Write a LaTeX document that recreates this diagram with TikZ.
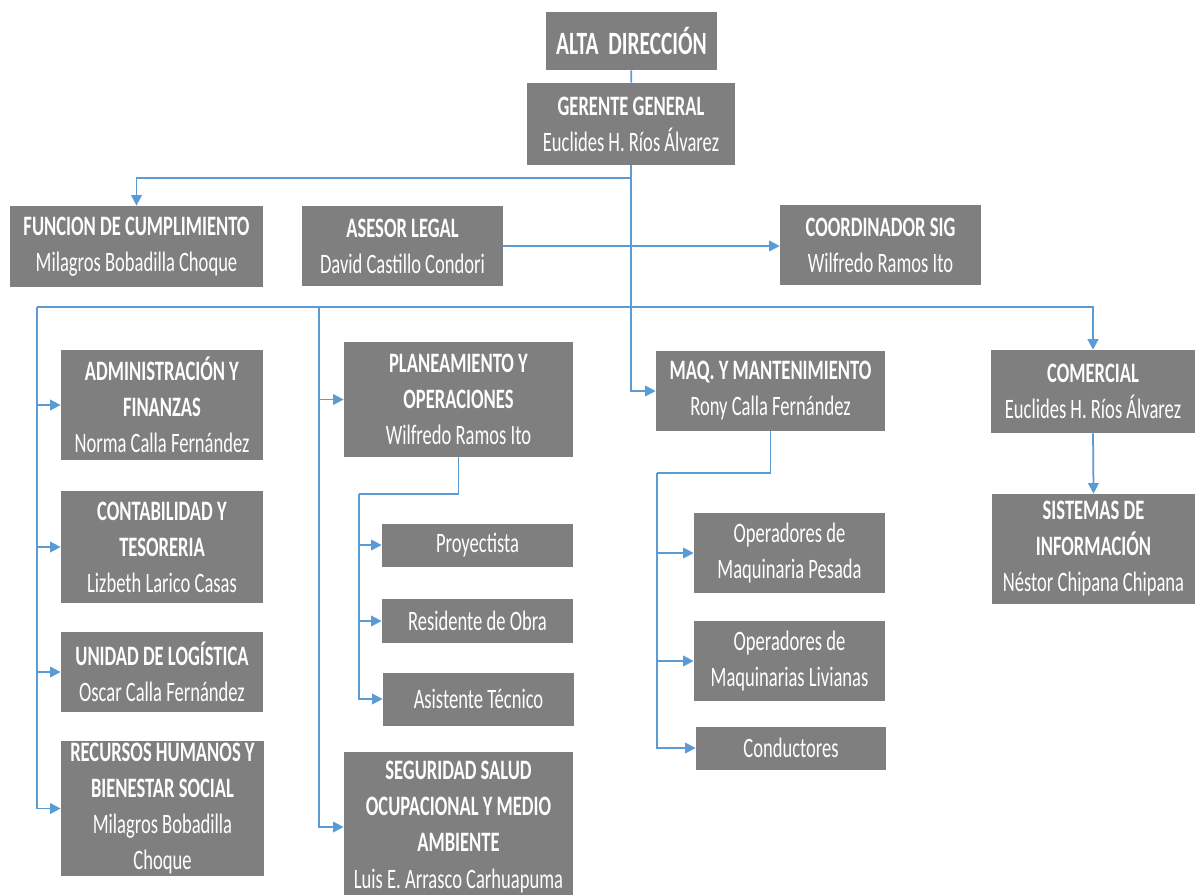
\documentclass[tikz,border=0pt]{standalone}
\usepackage{fontspec}
\setmainfont{Carlito}[FakeStretch=0.66]
\usetikzlibrary{arrows.meta}
\definecolor{boxgray}{HTML}{7F7F7F}
\definecolor{linkblue}{HTML}{5B9BD5}
\tikzset{
  unit/.style={fill=boxgray, text=white, align=center, inner sep=1pt, font=\fontsize{16}{20.5}\selectfont},
  link/.style={draw=linkblue, line width=1pt},
  feed/.style={link, -{Triangle[width=6pt,length=6pt]}},
}

\begin{document}
\begin{tikzpicture}[x=0.02cm, y=-0.02cm]
\useasboundingbox (0,0) rectangle (1195,894);
\node[unit, minimum width=3.42cm, minimum height=1.16cm, font=\fontsize{18.5}{21}\selectfont\bfseries] (alta) at (631.5,41) {ALTA~~DIRECCIÓN};
\node[unit, minimum width=4.16cm, minimum height=1.64cm] (gg) at (631,124) {\textbf{GERENTE GENERAL}\\Euclides H. Ríos Álvarez};
\node[unit, minimum width=5.06cm, minimum height=1.62cm] (func) at (136.5,246.5) {\textbf{FUNCION DE CUMPLIMIENTO}\\Milagros Bobadilla Choque};
\node[unit, minimum width=4.02cm, minimum height=1.6cm] (asesor) at (402.5,246) {\textbf{ASESOR LEGAL}\\David Castillo Condori};
\node[unit, minimum width=4.02cm, minimum height=1.6cm] (coord) at (880.5,245) {\textbf{COORDINADOR SIG}\\Wilfredo Ramos Ito};
\node[unit, minimum width=4.04cm, minimum height=2.2cm] (adm) at (162,405) {\textbf{ADMINISTRACIÓN Y}\\\textbf{FINANZAS}\\Norma Calla Fernández};
\node[unit, minimum width=4.04cm, minimum height=2.24cm] (cont) at (162,547) {\textbf{CONTABILIDAD Y}\\\textbf{TESORERIA}\\Lizbeth Larico Casas};
\node[unit, minimum width=4.04cm, minimum height=1.6cm] (logi) at (162,672) {\textbf{UNIDAD DE LOGÍSTICA}\\Oscar Calla Fernández};
\node[unit, minimum width=4.06cm, minimum height=2.7cm] (rrhh) at (162.5,808.5) {\textbf{RECURSOS HUMANOS Y}\\\textbf{BIENESTAR SOCIAL}\\Milagros Bobadilla\\Choque};
\node[unit, minimum width=4.58cm, minimum height=2.3cm] (plan) at (458.5,399.5) {\textbf{PLANEAMIENTO Y}\\\textbf{OPERACIONES}\\Wilfredo Ramos Ito};
\node[unit, minimum width=3.82cm, minimum height=0.86cm] (proy) at (477.5,545) {Proyectista};
\node[unit, minimum width=3.82cm, minimum height=0.88cm] (resi) at (477.5,621) {Residente de Obra};
\node[unit, minimum width=3.82cm, minimum height=1.06cm] (asis) at (478.5,699) {Asistente Técnico};
\node[unit, minimum width=4.58cm, minimum height=3.0cm] (segu) at (458.5,827) {\textbf{SEGURIDAD SALUD}\\\textbf{OCUPACIONAL Y MEDIO}\\\textbf{AMBIENTE}\\Luis E. Arrasco Carhuapuma};
\node[unit, minimum width=4.58cm, minimum height=1.6cm] (maq) at (770.5,391) {\textbf{MAQ. Y MANTENIMIENTO}\\Rony Calla Fernández};
\node[unit, minimum width=3.82cm, minimum height=1.6cm] (opes) at (789.5,553) {Operadores de\\Maquinaria Pesada};
\node[unit, minimum width=3.82cm, minimum height=1.6cm] (oliv) at (789.5,661) {Operadores de\\Maquinarias Livianas};
\node[unit, minimum width=3.8cm, minimum height=0.86cm] (cond) at (791,748) {Conductores};
\node[unit, minimum width=4.08cm, minimum height=1.66cm] (comer) at (1093,391.5) {\textbf{COMERCIAL}\\Euclides H. Ríos Álvarez};
\node[unit, minimum width=4.06cm, minimum height=2.2cm] (sist) at (1093.5,549) {\textbf{SISTEMAS DE}\\\textbf{INFORMACIÓN}\\Néstor Chipana Chipana};
% junctions
\coordinate (topj) at (631,178);
\coordinate (busl) at (37,307);
\coordinate (busm) at (319,307);
\coordinate (planj) at (359,494);
\coordinate (maqj) at (657,473);
% links
\draw[link] (alta) -- (gg);
\draw[feed] (gg.south) |- (maq.west);
\draw[feed] (topj) -| (func.north);
\draw[feed] (asesor.east) -- (asesor.east -| coord.west);
\draw[feed, line width=1.4pt] (busl) -| (comer.north);
\draw[feed] (busl) |- (adm.west);
\draw[feed] (busl) |- (cont.west);
\draw[feed] (busl) |- (logi.west);
\draw[feed] (busl) |- (rrhh.west);
\draw[feed] (busm) |- (plan.west);
\draw[feed] (busm) |- (segu.west);
\draw[link] (plan.south) |- (planj);
\draw[feed] (planj) |- (proy.west);
\draw[feed] (planj) |- (resi.west);
\draw[feed] (planj) |- (asis.west);
\draw[link] (maq.south) |- (maqj);
\draw[feed] (maqj) |- (opes.west);
\draw[feed] (maqj) |- (oliv.west);
\draw[feed] (maqj) |- (cond.west);
\draw[feed] (comer.south) -- (sist.north);
\end{tikzpicture}
\end{document}
